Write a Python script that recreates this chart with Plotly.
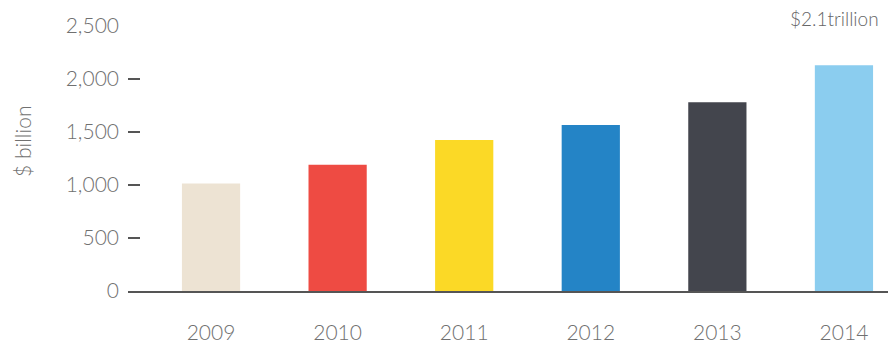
import plotly.graph_objects as go

years = ["2009", "2010", "2011", "2012", "2013", "2014"]
values = [1015, 1190, 1425, 1565, 1780, 2130]
colors = ["#EDE3D3", "#EE4B43", "#FBD926", "#2484C6", "#43454D", "#8BCDEF"]
y_ticks = [0, 500, 1000, 1500, 2000, 2500]
y_labels = ["0", "500", "1,000", "1,500", "2,000", "2,500"]
top_note = "$2.1trillion"
y_title = "$ billion"

FONT = "Lato"
TXT = "#707070"

fig = go.Figure(go.Bar(
    x=years, y=values, marker=dict(color=colors, line=dict(width=0)),
    width=0.46, hoverinfo="skip",
))

fig.update_layout(
    width=888, height=345,
    margin=dict(l=128, r=0, t=26, b=54),
    plot_bgcolor="white", paper_bgcolor="white",
    showlegend=False,
    font=dict(family=FONT, color=TXT, size=20, weight=300),
    xaxis=dict(
        type="category", range=[-0.656, 5.348],
        showgrid=False, zeroline=False,
        showline=True, linecolor="#555555", linewidth=2,
        ticks="", ticklabelstandoff=22,
        tickfont=dict(family=FONT, size=21, color=TXT, weight=300),
    ),
    yaxis=dict(
        range=[0, 2500], tickvals=y_ticks, ticktext=y_labels,
        showgrid=False, zeroline=False, showline=False,
        ticks="inside", ticklen=12, tickwidth=2, tickcolor="#555555",
        ticklabelstandoff=8,
        tickfont=dict(family=FONT, size=21, color=TXT, weight=300),
    ),
    annotations=[
        dict(text=top_note, xref="paper", yref="paper", x=1, y=1.03,
             xanchor="right", yanchor="middle", xshift=-7, showarrow=False,
             font=dict(family=FONT, size=19, color="#666666", weight=300)),
        dict(text=y_title, xref="paper", yref="paper", x=-0.139, y=0.564,
             xanchor="center", yanchor="middle", textangle=-90, showarrow=False,
             font=dict(family=FONT, size=21, color=TXT, weight=300)),
    ],
)

fig.write_html("out.html")
